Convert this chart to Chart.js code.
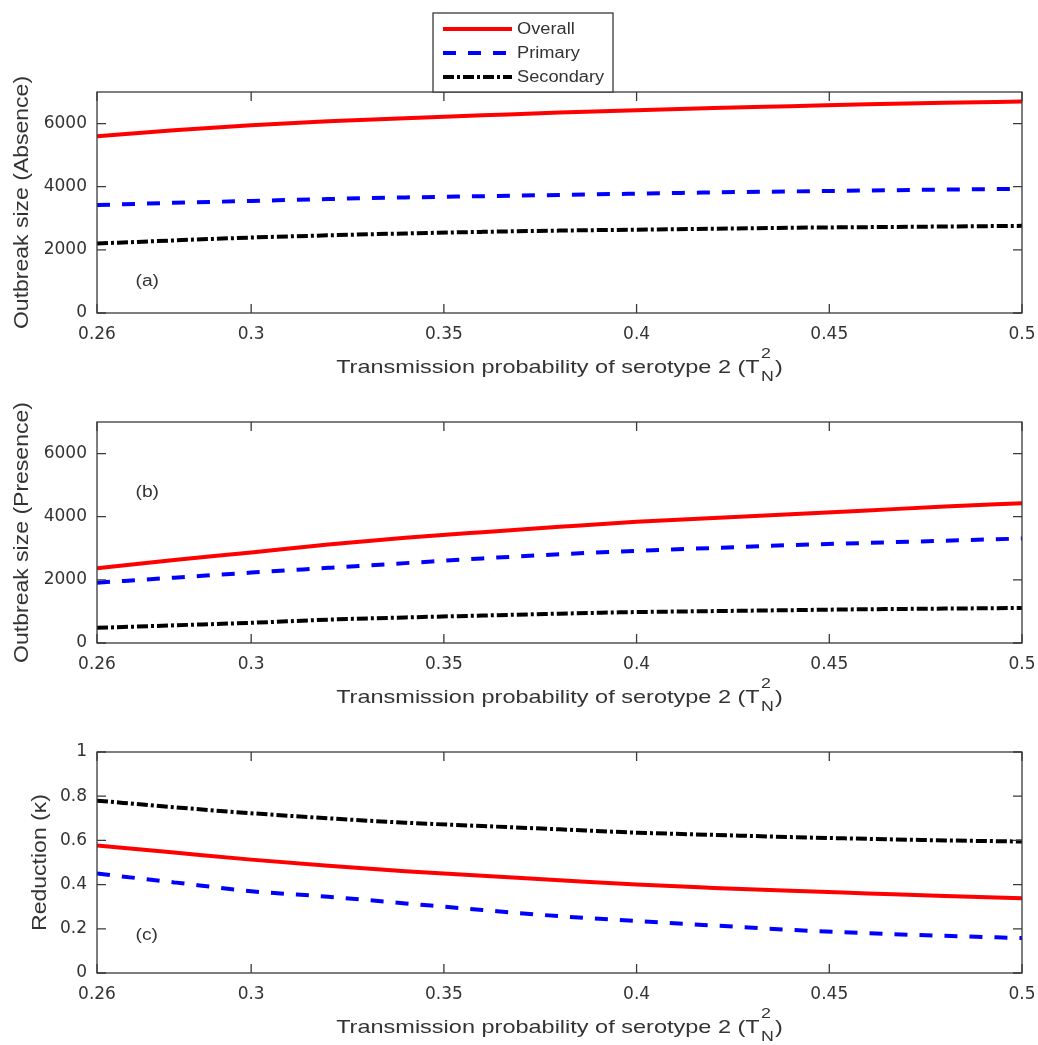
<!DOCTYPE html>
<html>
<head>
<meta charset="utf-8">
<script src="https://cdn.jsdelivr.net/npm/chart.js@4.4.1/dist/chart.umd.min.js"></script>
<style>
  html, body { margin: 0; padding: 0; background: #fff; }
  #wrap { position: relative; width: 1038px; height: 1045px; overflow: hidden; }
  #wrap canvas { position: absolute; left: 0; }
</style>
</head>
<body>
<div id="wrap">
  <canvas id="chartA" width="1038" height="395" style="top:0;width:1038px;height:395px"></canvas>
  <canvas id="chartB" width="1038" height="330" style="top:395px;width:1038px;height:330px"></canvas>
  <canvas id="chartC" width="1038" height="320" style="top:725px;width:1038px;height:320px"></canvas>
</div>
<script>
// Transmission probability of serotype 2 (x values)
const tValues = [0.26, 0.28, 0.30, 0.32, 0.34, 0.36, 0.38, 0.40, 0.42, 0.44, 0.46, 0.48, 0.50];

// (a) outbreak size, absence
const absOverall   = [5600, 5790, 5950, 6070, 6170, 6260, 6350, 6420, 6490, 6550, 6610, 6660, 6700];
const absPrimary   = [3420, 3490, 3550, 3610, 3660, 3700, 3740, 3780, 3820, 3850, 3880, 3910, 3930];
const absSecondary = [2200, 2300, 2390, 2460, 2520, 2570, 2610, 2640, 2670, 2700, 2720, 2740, 2760];

// (b) outbreak size, presence
const presOverall   = [2370, 2630, 2870, 3120, 3330, 3510, 3680, 3840, 3960, 4080, 4200, 4320, 4430];
const presPrimary   = [1910, 2070, 2230, 2380, 2530, 2680, 2810, 2920, 3010, 3100, 3170, 3240, 3310];
const presSecondary = [480, 560, 640, 740, 810, 870, 930, 980, 1010, 1040, 1070, 1090, 1110];

// (c) reduction
const redOverall   = [0.577, 0.545, 0.513, 0.485, 0.46, 0.44, 0.42, 0.40, 0.385, 0.372, 0.36, 0.348, 0.338];
const redPrimary   = [0.45, 0.41, 0.37, 0.345, 0.315, 0.285, 0.257, 0.235, 0.215, 0.195, 0.18, 0.168, 0.158];
const redSecondary = [0.78, 0.75, 0.723, 0.70, 0.68, 0.665, 0.65, 0.635, 0.625, 0.615, 0.607, 0.60, 0.595];

// axes
const xTicks = [0.26, 0.3, 0.35, 0.4, 0.45, 0.5];
const sizeTicks = [0, 2000, 4000, 6000];
const reductionTicks = [0, 0.2, 0.4, 0.6, 0.8, 1];
const seriesNames = ['Overall', 'Primary', 'Secondary'];

const seriesStyles = [
  { color: '#ff0000', dash: [] },
  { color: '#0000ff', dash: [13, 12] },
  { color: '#000000', dash: [11, 3, 3, 3] }
];

const TEXT = '#333333';
const SANS = '"Liberation Sans", Arial, sans-serif';

// draws text stretched horizontally (the figure uses a wide face)
function stretchText(ctx, text, x, y, size, sx, align) {
  ctx.save();
  ctx.font = size + 'px ' + SANS;
  ctx.fillStyle = TEXT;
  ctx.textBaseline = 'middle';
  ctx.textAlign = 'left';
  ctx.translate(x, y);
  ctx.scale(sx, 1);
  const w = ctx.measureText(text).width;
  ctx.fillText(text, align === 'center' ? -w / 2 : 0, 0);
  ctx.restore();
}

function drawXTitle(ctx, cx, baseline) {
  const sx = 1.27;
  const big = '18.5px ' + SANS;
  const small = '14px ' + SANS;
  const main = 'Transmission probability of serotype 2 (T';
  ctx.save();
  ctx.fillStyle = TEXT;
  ctx.textBaseline = 'alphabetic';
  ctx.textAlign = 'left';
  ctx.font = big;
  const w1 = ctx.measureText(main).width;
  const w3 = ctx.measureText(')').width;
  ctx.font = small;
  const w2 = Math.max(ctx.measureText('2').width, ctx.measureText('N').width);
  const total = w1 + w2 + w3 + 2;
  ctx.translate(cx - total * sx / 2, baseline);
  ctx.scale(sx, 1);
  ctx.font = big;
  ctx.fillText(main, 0, 0);
  ctx.fillText(')', w1 + w2 + 2, 0);
  ctx.font = small;
  ctx.fillText('2', w1 + 1, -15);
  ctx.fillText('N', w1 + 1, 8);
  ctx.restore();
}

function drawYTitle(ctx, text, cx, cy) {
  ctx.save();
  ctx.translate(cx, cy);
  ctx.rotate(-Math.PI / 2);
  ctx.scale(1.15, 1);
  ctx.font = '20px ' + SANS;
  ctx.fillStyle = TEXT;
  ctx.textAlign = 'center';
  ctx.textBaseline = 'middle';
  ctx.fillText(text, 0, 0);
  ctx.restore();
}

function drawLegend(ctx) {
  const box = { left: 433, top: 13, right: 613, bottom: 92 };
  ctx.save();
  ctx.fillStyle = '#fff';
  ctx.fillRect(box.left, box.top, box.right - box.left, box.bottom - box.top);
  ctx.strokeStyle = '#3a3a3a';
  ctx.lineWidth = 1.3;
  ctx.strokeRect(box.left, box.top, box.right - box.left, box.bottom - box.top);
  seriesNames.forEach((name, i) => {
    const y = 29 + 24 * i;
    ctx.beginPath();
    ctx.strokeStyle = seriesStyles[i].color;
    ctx.lineWidth = 4;
    ctx.setLineDash(seriesStyles[i].dash);
    ctx.moveTo(443, y);
    ctx.lineTo(512, y);
    ctx.stroke();
    ctx.setLineDash([]);
    stretchText(ctx, name, 517, y + 1, 16, 1.14, 'left');
  });
  ctx.restore();
}

// MATLAB-like box with inward ticks on all four sides, plus titles
const matlabAxes = {
  id: 'matlabAxes',
  afterDatasetsDraw(chart, args, opts) {
    const ctx = chart.ctx;
    const a = chart.chartArea;
    const xs = chart.scales.x;
    const ys = chart.scales.y;
    ctx.save();
    ctx.strokeStyle = '#3a3a3a';
    ctx.lineWidth = 1.3;
    ctx.setLineDash([]);
    ctx.strokeRect(a.left, a.top, a.right - a.left, a.bottom - a.top);
    ctx.beginPath();
    xs.ticks.forEach(t => {
      const px = xs.getPixelForValue(t.value);
      ctx.moveTo(px, a.bottom); ctx.lineTo(px, a.bottom - 9);
      ctx.moveTo(px, a.top); ctx.lineTo(px, a.top + 9);
    });
    ys.ticks.forEach(t => {
      const py = ys.getPixelForValue(t.value);
      ctx.moveTo(a.left, py); ctx.lineTo(a.left + 9, py);
      ctx.moveTo(a.right, py); ctx.lineTo(a.right - 9, py);
    });
    ctx.stroke();
    ctx.restore();

    stretchText(ctx, opts.tag, xs.getPixelForValue(opts.tagX), ys.getPixelForValue(opts.tagY), 16, 1.2, 'left');
    drawXTitle(ctx, (a.left + a.right) / 2, a.bottom + 60);
    drawYTitle(ctx, opts.yTitle, opts.yTitleX, (a.top + a.bottom) / 2);
    if (opts.legend) drawLegend(ctx);
  }
};

function makePanel(id, cfg) {
  const datasets = cfg.series.map((vals, i) => ({
    label: seriesNames[i],
    data: tValues.map((t, k) => ({ x: t, y: vals[k] })),
    borderColor: seriesStyles[i].color,
    borderDash: seriesStyles[i].dash,
    borderWidth: 4,
    pointRadius: 0,
    cubicInterpolationMode: 'monotone',
    fill: false
  }));

  const tickFont = { family: "'DejaVu Sans'", size: 17 };

  new Chart(document.getElementById(id), {
    type: 'line',
    data: { datasets: datasets },
    plugins: [matlabAxes],
    options: {
      responsive: false,
      animation: false,
      devicePixelRatio: 1,
      layout: { padding: { left: 0, right: 16, top: cfg.padTop, bottom: 0 } },
      plugins: {
        legend: { display: false },
        tooltip: { enabled: false },
        matlabAxes: {
          tag: cfg.tag, tagX: 0.27, tagY: cfg.tagY,
          yTitle: cfg.yTitle, yTitleX: cfg.yTitleX,
          legend: !!cfg.legend
        }
      },
      scales: {
        x: {
          type: 'linear',
          min: 0.26,
          max: 0.5,
          afterBuildTicks: scale => { scale.ticks = xTicks.map(v => ({ value: v })); },
          afterFit: scale => {
            scale.height = cfg.xHeight;
            scale.paddingLeft = 0;
            scale.paddingRight = 0;
          },
          grid: { display: false, drawTicks: false },
          border: { display: false },
          ticks: {
            autoSkip: false,
            maxRotation: 0,
            padding: 11,
            color: TEXT,
            font: tickFont,
            callback: v => String(v)
          }
        },
        y: {
          type: 'linear',
          min: 0,
          max: cfg.yMax,
          afterBuildTicks: scale => { scale.ticks = cfg.yTicks.map(v => ({ value: v })); },
          afterFit: scale => { scale.width = 97; },
          grid: { display: false, drawTicks: false },
          border: { display: false },
          ticks: {
            padding: 10,
            color: TEXT,
            font: tickFont,
            callback: v => String(v)
          }
        }
      }
    }
  });
}

makePanel('chartA', {
  series: [absOverall, absPrimary, absSecondary],
  yMax: 7000, yTicks: sizeTicks,
  yTitle: 'Outbreak size (Absence)', yTitleX: 22,
  tag: '(a)', tagY: 1000,
  padTop: 92, xHeight: 82, legend: true
});

makePanel('chartB', {
  series: [presOverall, presPrimary, presSecondary],
  yMax: 7000, yTicks: sizeTicks,
  yTitle: 'Outbreak size (Presence)', yTitleX: 22,
  tag: '(b)', tagY: 4750,
  padTop: 27, xHeight: 82
});

makePanel('chartC', {
  series: [redOverall, redPrimary, redSecondary],
  yMax: 1, yTicks: reductionTicks,
  yTitle: 'Reduction (\u03BA)', yTitleX: 40,
  tag: '(c)', tagY: 0.17,
  padTop: 27, xHeight: 72
});
</script>
</body>
</html>
